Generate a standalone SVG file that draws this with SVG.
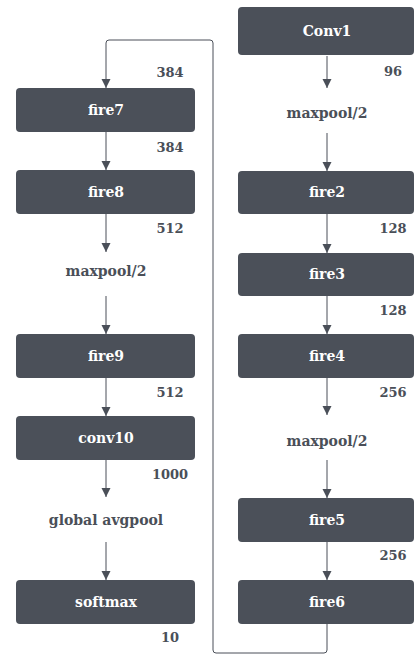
<svg xmlns="http://www.w3.org/2000/svg" width="414" height="655" viewBox="0 0 414 655">
<defs>
<marker id="ah" markerWidth="9" markerHeight="12" refX="8" refY="4" orient="auto" markerUnits="userSpaceOnUse" viewBox="0 0 8 8" >
<path d="M0,0 L8,4 L0,8 Z" fill="#4a4f58"/>
</marker>
<style>
.box{fill:#4b5059;}
.bt{font-family:"DejaVu Serif","Liberation Serif",serif;font-weight:bold;font-size:14px;fill:#ffffff;text-anchor:middle;}
.lb{font-family:"DejaVu Serif","Liberation Serif",serif;font-weight:bold;font-size:14px;fill:#4a4f58;text-anchor:middle;}
.nm{font-family:"DejaVu Serif","Liberation Serif",serif;font-weight:bold;font-size:13px;fill:#4a4f58;text-anchor:middle;}
.ln{fill:none;stroke:#4a4f58;stroke-width:1;}
</style>
</defs>
<rect width="414" height="655" fill="#ffffff"/>
<g id="connectors">
<path class="ln" d="M106,132 V170" marker-end="url(#ah)"/>
<path class="ln" d="M106,214 V252" marker-end="url(#ah)"/>
<path class="ln" d="M106,296 V334" marker-end="url(#ah)"/>
<path class="ln" d="M106,378 V416" marker-end="url(#ah)"/>
<path class="ln" d="M106,460 V497" marker-end="url(#ah)"/>
<path class="ln" d="M106,542 V580" marker-end="url(#ah)"/>
<path class="ln" d="M327,56 V88" marker-end="url(#ah)"/>
<path class="ln" d="M327,133 V171" marker-end="url(#ah)"/>
<path class="ln" d="M327,214 V253" marker-end="url(#ah)"/>
<path class="ln" d="M327,296 V334" marker-end="url(#ah)"/>
<path class="ln" d="M327,378 V415" marker-end="url(#ah)"/>
<path class="ln" d="M327,460 V498" marker-end="url(#ah)"/>
<path class="ln" d="M327,542 V580" marker-end="url(#ah)"/>
<path class="ln" d="M327,624 V650 Q327,653 324,653 H216 Q213,653 213,650 V43 Q213,40 210,40 H109 Q106,40 106,43 V88" marker-end="url(#ah)"/>
</g>
<g id="fire7"><rect class="box" x="16" y="88" width="179" height="44" rx="4"/><text class="bt" x="106" y="115">fire7</text></g>
<g id="fire8"><rect class="box" x="16" y="170" width="179" height="44" rx="4"/><text class="bt" x="106" y="197">fire8</text></g>
<g id="fire9"><rect class="box" x="16" y="334" width="179" height="44" rx="4"/><text class="bt" x="106" y="361">fire9</text></g>
<g id="conv10"><rect class="box" x="16" y="416" width="179" height="44" rx="4"/><text class="bt" x="106" y="443">conv10</text></g>
<g id="softmax"><rect class="box" x="16" y="580" width="179" height="44" rx="4"/><text class="bt" x="106" y="607">softmax</text></g>
<g id="conv1"><rect class="box" x="238" y="7" width="176" height="48" rx="4"/><text class="bt" x="327" y="36">Conv1</text></g>
<g id="fire2"><rect class="box" x="238" y="171" width="176" height="43" rx="4"/><text class="bt" x="327" y="197">fire2</text></g>
<g id="fire3"><rect class="box" x="238" y="253" width="176" height="43" rx="4"/><text class="bt" x="327" y="279">fire3</text></g>
<g id="fire4"><rect class="box" x="238" y="334" width="176" height="44" rx="4"/><text class="bt" x="327" y="361">fire4</text></g>
<g id="fire5"><rect class="box" x="238" y="498" width="176" height="44" rx="4"/><text class="bt" x="327" y="525">fire5</text></g>
<g id="fire6"><rect class="box" x="238" y="580" width="176" height="44" rx="4"/><text class="bt" x="327" y="607">fire6</text></g>
<g id="labels">
<text class="lb" x="106" y="276">maxpool/2</text>
<text class="lb" x="106" y="525">global avgpool</text>
<text class="lb" x="327" y="118">maxpool/2</text>
<text class="lb" x="327" y="446">maxpool/2</text>
<text class="nm" x="170" y="77">384</text>
<text class="nm" x="170" y="152">384</text>
<text class="nm" x="170" y="233">512</text>
<text class="nm" x="170" y="397">512</text>
<text class="nm" x="170" y="479">1000</text>
<text class="nm" x="170" y="642">10</text>
<text class="nm" x="393" y="76">96</text>
<text class="nm" x="393" y="233">128</text>
<text class="nm" x="393" y="315">128</text>
<text class="nm" x="393" y="397">256</text>
<text class="nm" x="393" y="560">256</text>
</g>
</svg>
